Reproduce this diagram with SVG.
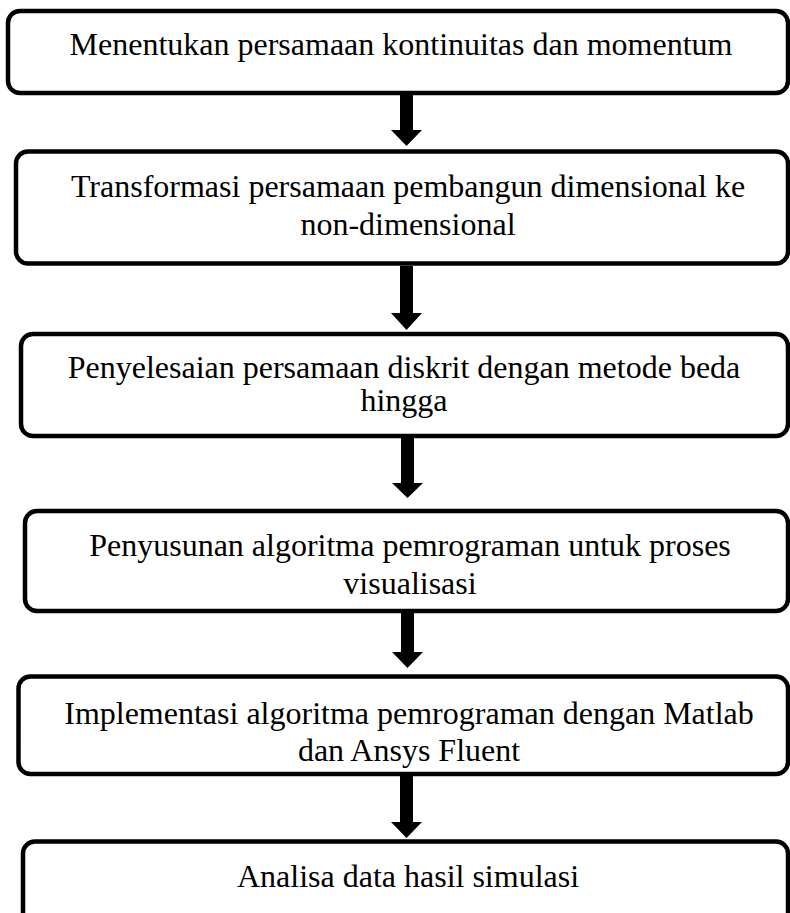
<svg xmlns="http://www.w3.org/2000/svg" width="790" height="913" viewBox="0 0 790 913">
  <defs>
    <style>
      .box { fill: #ffffff; stroke: #000000; stroke-width: 4.5; }
      .lbl { font-family: "Liberation Serif", "Times New Roman", serif; font-size: 32px; fill: #000000; text-anchor: middle; }
      .shaft { fill: #000000; }
    </style>
  </defs>
  <rect x="0" y="0" width="790" height="913" fill="#ffffff"/>

  <g id="step1">
    <rect class="box" x="8" y="11" width="780" height="82" rx="12" ry="12"/>
    <text class="lbl" x="401" y="55">Menentukan persamaan kontinuitas dan momentum</text>
  </g>

  <g id="step2">
    <rect class="box" x="16" y="151.5" width="772" height="112" rx="12" ry="12"/>
    <text class="lbl" x="408" y="197">Transformasi persamaan pembangun dimensional ke</text>
    <text class="lbl" x="408" y="235">non-dimensional</text>
  </g>

  <g id="step3">
    <rect class="box" x="21" y="334" width="767" height="102" rx="12" ry="12"/>
    <text class="lbl" x="404" y="378">Penyelesaian persamaan diskrit dengan metode beda</text>
    <text class="lbl" x="404" y="411">hingga</text>
  </g>

  <g id="step4">
    <rect class="box" x="25" y="511" width="763" height="100" rx="12" ry="12"/>
    <text class="lbl" x="410" y="556">Penyusunan algoritma pemrograman untuk proses</text>
    <text class="lbl" x="410" y="594">visualisasi</text>
  </g>

  <g id="step5">
    <rect class="box" x="18.5" y="676.5" width="769.5" height="97.5" rx="12" ry="12"/>
    <text class="lbl" x="409" y="724">Implementasi algoritma pemrograman dengan Matlab</text>
    <text class="lbl" x="409" y="761">dan Ansys Fluent</text>
  </g>

  <g id="step6">
    <rect class="box" x="23" y="841.5" width="765" height="110" rx="12" ry="12"/>
    <text class="lbl" x="408" y="887">Analisa data hasil simulasi</text>
  </g>

  <!-- block arrows between steps -->
  <g id="connectors" class="shaft">
    <path d="M400 95 H413 V130 H422 L406.5 146 L391 130 H400 Z"/>
    <path d="M400 266 H413 V313 H422 L406.5 330 L391 313 H400 Z"/>
    <path d="M401 438 H414 V483 H423 L407.5 498 L392 483 H401 Z"/>
    <path d="M401 613 H414 V652 H423 L407.5 668 L392 652 H401 Z"/>
    <path d="M400 776 H413 V822 H422 L406.5 838 L391 822 H400 Z"/>
  </g>
</svg>
